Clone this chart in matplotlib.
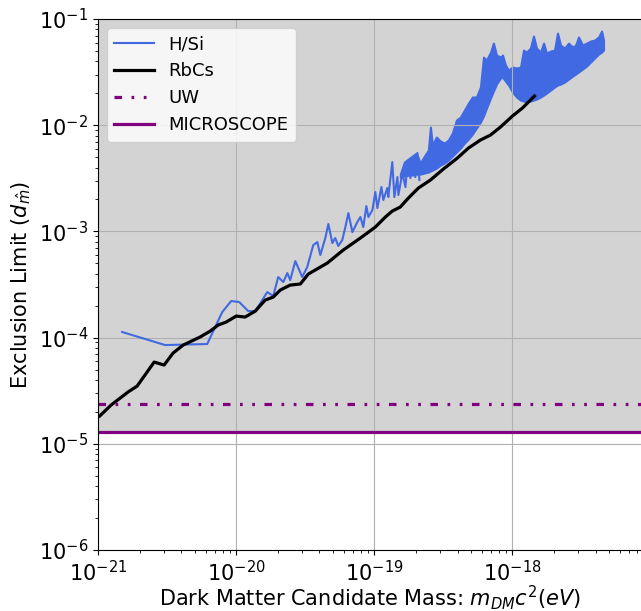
import numpy as np
import matplotlib.pyplot as plt

# values, stored as log10(mass / eV) and log10(limit)
rbcs_logm = [-20.988, -20.906, -20.783, -20.717, -20.594, -20.522, -20.457, -20.384, -20.261, -20.188,
             -20.130, -20.072, -20.000, -19.935, -19.862, -19.790, -19.732, -19.681, -19.609, -19.536,
             -19.478, -19.341, -19.225, -19.101, -18.993, -18.920, -18.870, -18.812, -18.754, -18.681,
             -18.594, -18.500, -18.399, -18.319, -18.232, -18.159, -18.087, -18.000, -17.928, -17.841]
rbcs_logd = [-4.738, -4.635, -4.512, -4.456, -4.230, -4.258, -4.145, -4.070, -3.994, -3.938,
             -3.881, -3.853, -3.797, -3.806, -3.750, -3.646, -3.618, -3.552, -3.505, -3.495,
             -3.401, -3.298, -3.175, -3.062, -2.959, -2.864, -2.808, -2.770, -2.686, -2.591,
             -2.516, -2.412, -2.309, -2.215, -2.139, -2.092, -2.017, -1.913, -1.838, -1.725]

# H/Si, sparse part (single line)
hsi_logm = [-20.826, -20.514, -20.210, -20.101, -20.036, -19.978, -19.913, -19.862, -19.775, -19.732,
            -19.696, -19.659, -19.630, -19.609, -19.572, -19.522, -19.486, -19.442, -19.413, -19.391,
            -19.355, -19.333, -19.304, -19.283, -19.261, -19.232, -19.210, -19.188, -19.159, -19.123,
            -19.101, -19.080, -19.058, -19.043, -19.014, -18.993, -18.978, -18.949, -18.935, -18.906,
            -18.899, -18.870, -18.855, -18.833, -18.826, -18.797, -18.775, -18.761, -18.739, -18.717,
            -18.703, -18.688, -18.674]
hsi_logd = [-3.947, -4.070, -4.060, -3.759, -3.655, -3.665, -3.750, -3.750, -3.571, -3.608,
            -3.429, -3.476, -3.392, -3.458, -3.279, -3.429, -3.335, -3.128, -3.100, -3.222,
            -3.062, -2.930, -3.109, -3.062, -3.137, -3.081, -2.959, -2.827, -3.006, -2.911,
            -2.864, -2.959, -2.761, -2.864, -2.798, -2.629, -2.780, -2.582, -2.704, -2.591,
            -2.676, -2.347, -2.676, -2.488, -2.657, -2.450, -2.582, -2.375, -2.497, -2.299,
            -2.488, -2.262, -2.516]

# H/Si, dense part: lower and upper edge of the band
hsi_band_logm = [-18.812, -18.783, -18.754, -18.725, -18.696, -18.667, -18.638, -18.609, -18.594, -18.580,
                 -18.551, -18.522, -18.493, -18.464, -18.435, -18.406, -18.377, -18.348, -18.319, -18.290,
                 -18.261, -18.232, -18.210, -18.188, -18.159, -18.138, -18.116, -18.087, -18.072, -18.051,
                 -18.029, -18.000, -17.971, -17.942, -17.920, -17.899, -17.870, -17.848, -17.826, -17.797,
                 -17.775, -17.754, -17.725, -17.696, -17.674, -17.652, -17.623, -17.594, -17.565, -17.543,
                 -17.522, -17.493, -17.464, -17.435, -17.406, -17.377, -17.355, -17.341]
hsi_band_low = [-2.488, -2.478, -2.469, -2.469, -2.460, -2.460, -2.450, -2.441, -2.431, -2.422,
                -2.403, -2.375, -2.356, -2.328, -2.290, -2.252, -2.215, -2.168, -2.130, -2.083,
                -2.026, -1.970, -1.913, -1.838, -1.744, -1.678, -1.612, -1.556, -1.546, -1.584,
                -1.621, -1.687, -1.734, -1.763, -1.772, -1.782, -1.772, -1.763, -1.753, -1.734,
                -1.716, -1.697, -1.669, -1.640, -1.621, -1.612, -1.593, -1.565, -1.537, -1.518,
                -1.499, -1.471, -1.443, -1.405, -1.367, -1.330, -1.311, -1.292]
hsi_band_high = [-2.460, -2.347, -2.318, -2.290, -2.262, -2.356, -2.290, -2.234, -2.017, -2.186,
                 -2.111, -2.149, -2.168, -2.139, -2.073, -1.951, -1.923, -1.857, -1.791, -1.734,
                 -1.734, -1.640, -1.358, -1.386, -1.311, -1.226, -1.339, -1.358, -1.339, -1.433,
                 -1.480, -1.452, -1.461, -1.452, -1.292, -1.311, -1.273, -1.160, -1.273, -1.311,
                 -1.226, -1.320, -1.301, -1.292, -1.132, -1.245, -1.273, -1.226, -1.264, -1.245,
                 -1.169, -1.245, -1.226, -1.207, -1.198, -1.169, -1.113, -1.198]

uw_limit = 2.37e-5
microscope_limit = 1.29e-5

fig = plt.figure(figsize=(6.41, 6.11), dpi=100)
ax = fig.add_axes([0.153, 0.0998, 0.848, 0.869])

# excluded region above MICROSCOPE
ax.axhspan(microscope_limit, 1, color='lightgray', lw=0)

ax.plot(10**np.array(hsi_logm), 10**np.array(hsi_logd), color='royalblue', lw=1.5, label='H/Si')
ax.fill_between(10**np.array(hsi_band_logm), 10**np.array(hsi_band_low), 10**np.array(hsi_band_high),
                color='royalblue', lw=1.5)
ax.plot(10**np.array(rbcs_logm), 10**np.array(rbcs_logd), color='black', lw=2.3, label='RbCs')
ax.axhline(uw_limit, color='purple', lw=2.3,
           linestyle=(0, (2.35, 2.98, 0.85, 2.98, 0.85, 2.98)), label='UW')
ax.axhline(microscope_limit, color='purple', lw=2.3, label='MICROSCOPE')

ax.set_xscale('log')
ax.set_yscale('log')
ax.set_xlim(1e-21, 10**-17.065)
ax.set_ylim(1e-6, 1e-1)
ax.grid(True)
ax.spines['right'].set_visible(False)
ax.tick_params(labelsize=15)

ax.set_xlabel('Dark Matter Candidate Mass: $m_{DM}c^2(eV)$', fontsize=15, labelpad=-1)
ax.set_ylabel('Exclusion Limit ($d_{\\hat{m}}$)', fontsize=15)
ax.legend(loc='upper left', fontsize=13, handlelength=2.2, labelspacing=0.5)

fig.savefig('out.png', dpi=100)
